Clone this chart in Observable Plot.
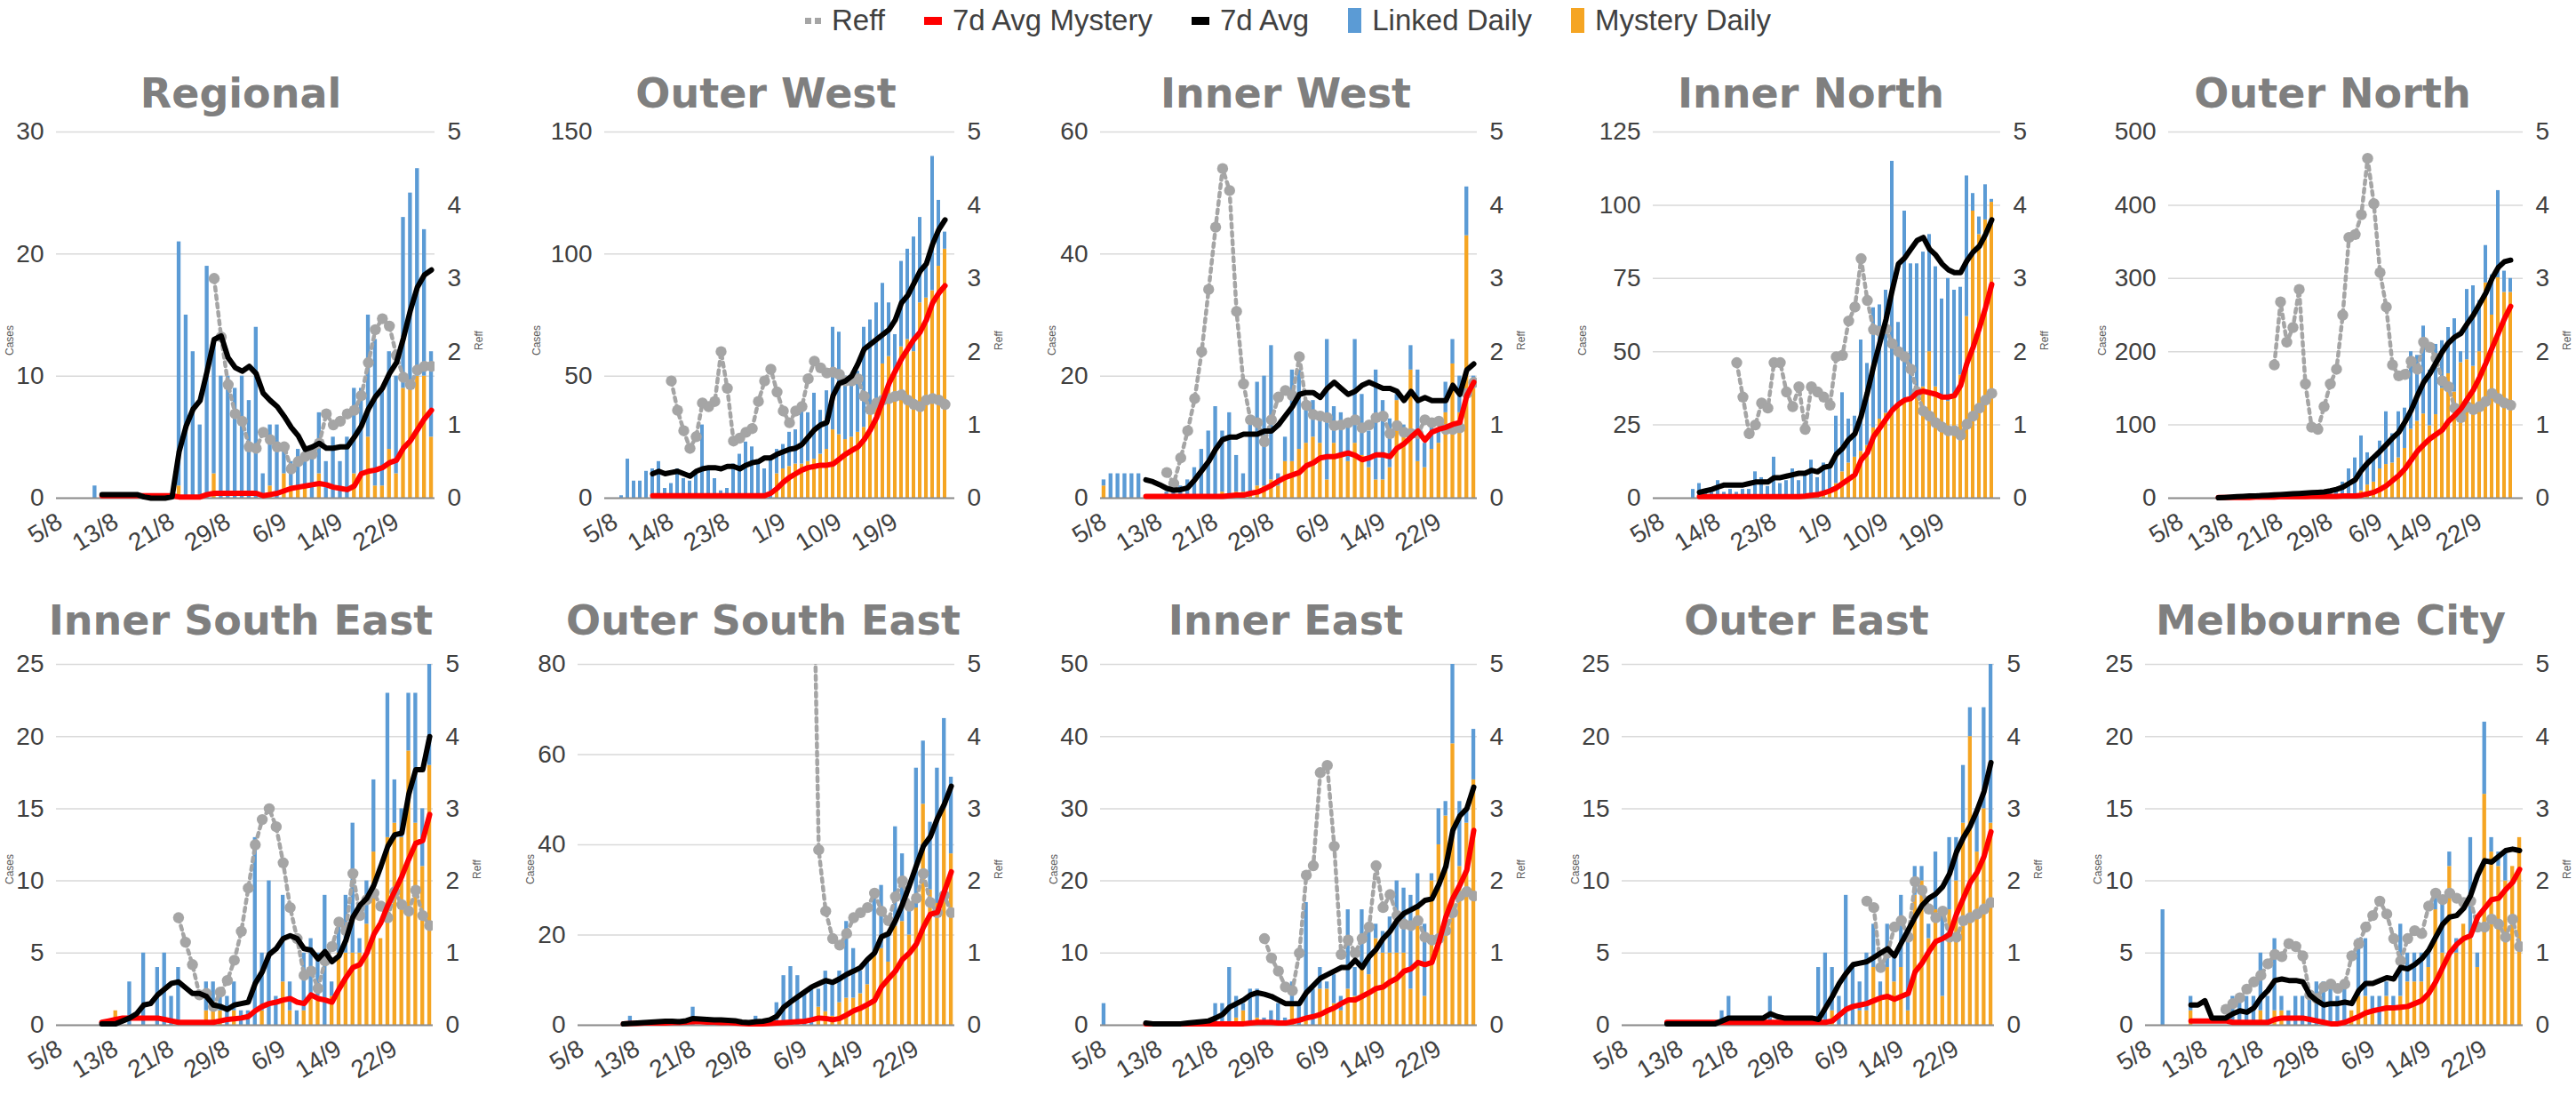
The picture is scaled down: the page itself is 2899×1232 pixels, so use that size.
<!DOCTYPE html>
<html>
<head>
<meta charset="utf-8">
<script src="https://cdn.jsdelivr.net/npm/d3@7"></script>
<script src="https://cdn.jsdelivr.net/npm/@observablehq/plot@0.6"></script>
<style>
html,body{margin:0;padding:0;background:#fff;overflow:hidden;}
#root{position:relative;width:2899px;height:1232px;background:#fff;font-family:"Liberation Sans",Arial,sans-serif;}
.title{position:absolute;transform:translate(-50%,-50%);font-family:"DejaVu Sans",sans-serif;font-weight:bold;font-size:46px;color:#7f7f7f;white-space:nowrap;line-height:1;}
.panel{position:absolute;}
.axt{position:absolute;transform:translate(-50%,-50%) rotate(-90deg);font-size:12px;color:#595959;white-space:nowrap;}
#legend{position:absolute;top:2px;left:0;width:2899px;height:42px;display:flex;justify-content:center;align-items:center;gap:44px;font-size:33px;color:#404040;}
#legend .it{display:flex;align-items:center;gap:12px;}
#legend .dots{display:flex;gap:4px;}
#legend .dots i{display:block;width:7px;height:7px;background:#a5a5a5;}
#legend .ln{display:block;width:20px;height:9px;}
#legend .bx{display:block;width:15px;height:28px;}
</style>
</head>
<body>
<div id="root">
  <div id="legend">
    <span class="it"><span class="dots"><i></i><i></i></span>Reff</span>
    <span class="it"><span class="ln" style="background:#ff0000"></span>7d Avg Mystery</span>
    <span class="it"><span class="ln" style="background:#000"></span>7d Avg</span>
    <span class="it"><span class="bx" style="background:#5b9bd5"></span>Linked Daily</span>
    <span class="it"><span class="bx" style="background:#f5a523"></span>Mystery Daily</span>
  </div>
</div>
<script>
// ---------- categories & tick labels ----------
const dates = ["5/8","6/8","7/8","8/8","9/8","10/8","11/8","12/8","13/8","14/8","15/8","16/8","17/8","18/8","19/8","20/8","21/8","22/8","23/8","24/8","25/8","26/8","27/8","28/8","29/8","30/8","31/8",
"1/9","2/9","3/9","4/9","5/9","6/9","7/9","8/9","9/9","10/9","11/9","12/9","13/9","14/9","15/9","16/9","17/9","18/9","19/9","20/9","21/9","22/9","23/9","24/9","25/9","26/9","27/9"];
const ticks8 = ["5/8","13/8","21/8","29/8","6/9","14/9","22/9"];
const ticks9 = ["5/8","14/8","23/8","1/9","10/9","19/9"];
const reffTicks = [0,1,2,3,4,5];
const _ = null;

// ---------- Regional ----------
const regionalTicks = [0,10,20,30];
const regionalLinked = [0,0,0,0,0,1,0,0,0,0, 0,0,0,0,0,0,0,20,15,12, 6,19,11,10,10,9,10,8,14,2, 5,6,2,2,3,3,4,5,3,5, 3,5,7,7,10,12,8,8,8,14, 16,17,12,7];
const regionalMystery = [0,0,0,0,0,0,0,0,0,0, 0,0,0,0,0,0,0,1,0,0, 0,0,2,0,0,0,0,0,0,0, 1,0,2,1,1,1,0,2,0,0, 0,0,2,2,5,1,1,4,2,9, 9,10,10,5];
const regionalAvg = [_,_,_,_,_,_,0.3,0.3,0.3,0.3, 0.3,0.3,0.1,0,0,0,0.1,3.8,5.9,7.3, 8,10.4,13,13.3,11.5,10.7,10.4,10.8,10.2,8.6, 8,7.5,6.7,5.8,5.1,4,4.2,4.5,4.1,4.1, 4.2,4.2,5,5.9,7.3,8.3,9,10.2,11.1,13.1, 15.4,17.3,18.3,18.7];
const regionalAvgMystery = [_,_,_,_,_,_,0.2,0.2,0.2,0.2, 0.2,0.2,0.2,0.2,0.2,0.2,0.2,0.1,0.1,0.1, 0.1,0.3,0.4,0.4,0.4,0.4,0.4,0.4,0.4,0.2, 0.3,0.4,0.6,0.8,0.9,1.0,1.1,1.2,1.1,0.9, 0.8,0.7,1.0,2.0,2.2,2.3,2.5,2.9,3.1,4.1, 4.7,5.6,6.5,7.2];
const regionalReff = [_,_,_,_,_,_,_,_,_,_, _,_,_,_,_,_,_,_,_,_, _,_,3.0,2.2,1.55,1.15,1.05,0.7,0.68,0.9, 0.8,0.7,0.7,0.4,0.5,0.57,0.6,0.75,1.15,1.0, 1.05,1.15,1.2,1.4,1.85,2.3,2.45,2.35,1.95,1.65, 1.55,1.75,1.8,1.8];

// ---------- Outer West ----------
const outerWestTicks = [0,50,100,150];
const outerWestLinked = [0,1,16,7,7,11,12,15,4,6, 12,8,7,10,30,12,8,3,4,14, 18,23,21,15,12,17,10,10,14,14, 22,20,27,18,24,42,42,26,23,25, 41,37,40,33,22,15,35,37,47,35, 13,55,27,7];
const outerWestMystery = [0,0,0,0,0,0,0,0,0,0, 0,0,0,0,0,0,0,0,0,0, 0,0,0,0,0,0,10,12,13,14, 14,15,16,18,20,28,26,24,25,27, 29,36,40,55,58,52,62,65,60,80, 82,85,95,102];
const outerWestAvg = [_,_,_,_,_,_,10,11,10,10.5, 11,10,9,11,12,12.5,12.5,12,13,13, 12,13.5,14.5,15,16.5,16.5,18,19,20,20.5, 22,25,28,30,31,42,47,48,50,55, 61,63,65,67,69,73,80,83,88,93, 96,104,110,114];
const outerWestAvgMystery = [_,_,_,_,_,_,1,1,1,1, 1,1,1,1,1,1,1,1,1,1, 1,1,1,1,1,2,4,6.5,8.5,10, 11.5,12.5,13,13.5,13.5,14,16,18,19.5,21, 24,28,33,40,47,52,57,61,65,68, 73,80,84,87];
const outerWestReff = [_,_,_,_,_,_,_,_,_,1.6, 1.2,0.92,0.68,0.84,1.3,1.25,1.32,2.0,1.5,0.78, 0.82,0.9,0.95,1.32,1.6,1.76,1.45,1.19,1.03,1.19, 1.25,1.63,1.87,1.78,1.71,1.72,1.69,1.6,1.6,1.63, 1.39,1.21,1.3,1.34,1.36,1.39,1.41,1.34,1.28,1.25, 1.34,1.36,1.34,1.28];

// ---------- Inner West ----------
const innerWestTicks = [0,20,40,60];
const innerWestLinked = [1,4,4,4,4,4,0,0,0,1, 2,2,3,5,8,11,15,10,14,6, 3,11,17,18,22,2,4,15,13,7, 6,5,23,6,7,7,17,10,6,18, 13,8,1,1,4,15,4,5,2,5, 4,6,8,2];
const innerWestMystery = [2,0,0,0,0,0,0,0,0,0, 0,0,0,0,0,0,0,1,0,1, 1,1,2,2,3,2,6,6,8,9, 10,9,3,9,7,6,9,7,5,3, 3,5,16,11,21,6,5,8,9,14, 22,14,43,18];
const innerWestAvg = [_,_,_,_,_,_,3,2.7,2.2,1.6, 1.3,1.4,1.7,3,4.5,6,8,9.6,10,10, 10.5,10.5,10.5,11,11,12,13.5,15,17,17.3, 17.3,16.5,18,19,18,17,17.5,18.5,19,18.5, 18,18,17.5,16,17.5,16,16.5,16,16,16, 18.5,17,21,22];
const innerWestAvgMystery = [_,_,_,_,_,_,0.3,0.3,0.3,0.3, 0.3,0.3,0.3,0.3,0.3,0.3,0.3,0.3,0.4,0.5, 0.5,0.8,1.0,1.5,2.1,2.8,3.4,3.8,4.2,5.3, 5.8,6.6,6.8,6.8,7.1,7.4,7.0,6.3,6.6,7.1, 7.1,6.8,8.2,8.9,10,11,9.5,10.8,11.3,11.6, 12.1,12.4,16.8,19];
const innerWestReff = [_,_,_,_,_,_,_,_,_,0.35, 0.2,0.55,0.92,1.36,2.0,2.85,3.7,4.5,4.2,2.55, 1.56,1.07,1.03,0.77,1.07,1.38,1.47,1.4,1.93,1.27, 1.14,1.12,1.1,0.99,1.0,1.03,1.07,0.96,1.0,1.1, 1.12,0.88,0.99,0.9,0.88,0.88,1.07,1.03,1.05,0.94, 0.94,0.96,1.43,1.58];

// ---------- Inner North ----------
const innerNorthTicks = [0,25,50,75,100,125];
const innerNorthLinked = [0,0,0,0,0,3,5,3,2,6, 2,3,2,3,3,9,7,4,14,5, 6,10,6,9,13,6,10,7,23,27, 15,14,38,28,41,39,42,85,28,64, 46,45,46,40,41,33,42,36,30,48, 6,6,12,1];
const innerNorthMystery = [0,0,0,0,0,0,0,0,0,0, 0,0,0,0,0,0,0,0,0,0, 0,0,0,0,0,1,2,3,5,9, 12,14,16,18,24,27,29,30,32,34, 34,35,38,50,38,35,33,35,42,62, 98,90,95,101];
const innerNorthAvg = [_,_,_,_,_,_,2,2.5,3,3.8, 4.5,4.5,4.5,4.5,5,5.5,5.5,5.5,7,7, 7.5,8,8.5,8.5,9.5,9,10.5,11,15,17, 20,22,28,36,45,53,61,71,80,82, 85,88,89,85,83,80,78,77,77,81, 84,86,90,95];
const innerNorthAvgMystery = [_,_,_,_,_,_,0.5,0.5,0.5,0.5, 0.5,0.5,0.5,0.5,0.5,0.5,0.5,0.5,0.5,0.5, 0.5,0.5,0.5,0.7,1,1.2,1.8,2.5,3.5,5, 6.5,8,13,15.5,21,24,27,30,32,33.5, 34,36,36.5,36,35.5,34.5,34.5,35,38.5,46, 51.5,58,65,73];
const innerNorthReff = [_,_,_,_,_,_,_,_,_,_, _,_,1.85,1.38,0.88,1.0,1.3,1.23,1.85,1.85, 1.45,1.25,1.52,0.94,1.52,1.45,1.38,1.27,1.93,1.95, 2.42,2.61,3.27,2.7,2.3,2.28,2.31,2.11,2.0,1.93, 1.76,1.45,1.19,1.12,1.03,0.97,0.92,0.92,0.86,1.01, 1.12,1.23,1.34,1.43];

// ---------- Outer North ----------
const outerNorthTicks = [0,100,200,300,400,500];
const outerNorthLinked = [0,0,0,0,0,0,0,0,0,0, 0,0,1,2,3,2,4,3,5,3, 4,6,5,8,10,12,22,40,50,75, 44,35,38,72,40,63,55,106,90,120, 76,96,65,63,100,15,96,110,70,51, 55,119,29,19];
const outerNorthMystery = [0,0,0,0,0,0,0,0,0,0, 0,0,0,0,0,0,0,0,0,0, 0,0,0,0,0,0,0,0,5,10, 18,22,40,46,48,55,68,94,105,115, 99,114,150,170,145,185,189,180,200,294, 250,301,281,281];
const outerNorthAvg = [_,_,_,_,_,_,0.5,1,1.5,2, 2.5,3,3,3.5,4,4.5,5,5.5,6,6.5, 7,7.5,8,8.5,10,12,15,20,25,38, 48,56,64,73,82,90,104,120,140,158, 170,185,200,212,220,225,238,250,265,280, 300,315,323,325];
const outerNorthAvgMystery = [_,_,_,_,_,_,1,1,1,1, 1,1,1.5,1.5,1.5,1.5,2,2,2,2, 2,2.5,2.5,2.5,2.5,2.5,3,3,3,4, 6,8,12,17,24,31,40,52,64,73, 81,87,93,105,113,122,135,148,165,184, 205,225,245,262];
const outerNorthReff = [_,_,_,_,_,_,_,_,_,_, _,_,_,_,_,1.82,2.68,2.13,2.33,2.85, 1.56,0.97,0.94,1.25,1.56,1.76,2.5,3.56,3.6,3.87, 4.64,4.02,3.08,2.61,1.82,1.67,1.69,1.87,1.76,2.13, 2.06,1.91,1.6,1.52,1.23,1.1,1.25,1.21,1.25,1.32, 1.43,1.36,1.3,1.27];

// ---------- Inner South East ----------
const innerSouthEastTicks = [0,5,10,15,20,25];
const innerSouthEastLinked = [0,0,0,0,0,0,0,0,0,0, 3,0,5,0,4,5,2,4,0,0, 0,2,2,1,2,2,1,1,13,4, 10,2,6,2,1,4,4,3,9,1, 2,4,9,1,3,5,0,10,3,2, 4,9,4,7];
const innerSouthEastMystery = [0,0,0,0,0,0,0,0,1,0, 0,0,0,0,0,0,0,0,0,0, 0,1,1,1,0,1,0,0,0,1, 0,0,3,1,0,1,2,2,0,2, 5,5,5,5,7,12,6,13,14,13, 19,14,11,18];
const innerSouthEastAvg = [_,_,_,_,_,_,0.1,0.1,0.1,0.3, 0.5,0.8,1.4,1.5,2.1,2.5,2.9,3.0,2.6,2.2, 2.2,2.0,1.4,1.3,1.1,1.4,1.5,1.6,2.9,3.7, 4.9,5.3,6,6.2,6,5.3,5.2,4.6,5.1,4.4, 4.8,5.9,7.5,8.3,8.8,9.7,11,12.4,13.2,13.3, 16,17.7,17.7,20];
const innerSouthEastAvgMystery = [_,_,_,_,_,_,0.2,0.3,0.4,0.5, 0.5,0.5,0.5,0.5,0.5,0.4,0.3,0.2,0.2,0.2, 0.2,0.2,0.2,0.3,0.4,0.45,0.5,0.6,1.0,1.3, 1.5,1.6,1.75,1.85,1.6,1.5,2.1,1.85,1.75,1.6, 2.5,3.3,4.0,4.2,5.0,6.3,7.1,8.3,9.3,10.3, 11.5,12.6,12.8,14.6];
const innerSouthEastReff = [_,_,_,_,_,_,_,_,_,_, _,_,_,_,_,_,_,1.49,1.15,0.84, 0.42,0.44,0.26,0.46,0.62,0.9,1.3,1.9,2.5,2.85, 3.0,2.75,2.25,1.63,1.2,0.69,0.75,0.51,0.89,1.09, 1.43,1.31,2.1,1.52,1.74,1.83,1.65,1.49,1.85,1.67, 1.58,1.87,1.52,1.38];

// ---------- Outer South East ----------
const outerSouthEastTicks = [0,20,40,60,80];
const outerSouthEastLinked = [0,0,0,0,0,0,0,2,0,1, 0,0,1,0,1,0,4,0,0,1, 0,1,0,1,0,2,0,1,5,11, 13,11,7,8,4,9,8,7,17,11, 5,5,13,14,6,22,15,7,31,14, 15,30,20,17];
const outerSouthEastMystery = [0,0,0,0,0,0,0,0,0,0, 0,0,0,0,0,0,0,0,0,0, 0,0,0,0,0,0,0,0,0,0, 0,0,0,0,4,3,2,5,6,6, 7,9,16,17,14,22,23,20,26,49, 30,27,48,38];
const outerSouthEastAvg = [_,_,_,_,_,_,0.3,0.4,0.5,0.6, 0.7,0.8,0.9,0.9,0.8,1.0,1.5,1.4,1.3,1.2, 1.2,1.1,1.0,0.7,0.6,0.8,0.9,1.2,2.0,4.0, 5.2,6.3,7.4,8.5,9.2,9.9,9.5,10.3,11.3,12, 12.8,14.6,16,19.6,20.3,23.2,26.8,31,35.4,39.7, 41.8,45.8,49,53];
const outerSouthEastAvgMystery = [_,_,_,_,_,_,0.3,0.4,0.4,0.5, 0.5,0.5,0.5,0.6,0.6,0.7,0.8,0.8,0.7,0.7, 0.6,0.6,0.5,0.4,0.3,0.3,0.3,0.4,0.5,0.6, 0.7,0.8,0.9,1.2,1.6,1.5,1.2,1.5,2.3,3.2, 3.8,4.6,5.5,8.5,10.3,12,14.6,16,18,21.7, 24.6,25,29.6,34];
const outerSouthEastReff = [_,_,_,_,_,_,_,_,_,_, _,_,_,_,_,_,_,_,_,_, _,_,_,_,_,_,_,_,_,_, _,_,_,8,2.43,1.58,1.2,1.11,1.27,1.49, 1.56,1.63,1.83,1.58,1.45,1.78,2.0,1.65,1.76,2.1, 1.7,1.56,1.8,1.56];

// ---------- Inner East ----------
const innerEastTicks = [0,10,20,30,40,50];
const innerEastLinked = [3,0,0,0,0,0,0,0,0,0, 0,0,0,0,0,0,3,3,8,3, 1,5,4,1,2,3,1,3,3,16, 5,3,1,4,2,11,4,8,6,2, 3,5,10,9,13,5,10,1,5,2, 11,9,2,7];
const innerEastMystery = [0,0,0,0,0,0,0,0,0,0, 0,0,0,0,0,0,0,0,0,1, 2,0,1,0,0,0,0,3,0,1, 0,5,5,3,2,5,4,8,7,12, 10,10,10,10,5,16,4,20,25,29, 39,22,28,34];
const innerEastAvg = [_,_,_,_,_,_,0.3,0.2,0.2,0.2, 0.2,0.2,0.3,0.4,0.5,0.6,1,1.5,2.5,3, 3.5,4.2,4.5,4.3,4,3.5,3,3,3,4.5, 5.5,6.5,7,7.5,8,8,9,8,9.5,10.5, 12,13,14.5,15.5,16,16.5,17.3,17.5,19.5,22, 27,29,30,33];
const innerEastAvgMystery = [_,_,_,_,_,_,0.2,0.2,0.2,0.2, 0.2,0.2,0.2,0.2,0.2,0.2,0.2,0.2,0.2,0.2, 0.2,0.3,0.4,0.4,0.4,0.3,0.3,0.5,0.7,1.0, 1.2,1.5,2.0,2.4,3.0,3.5,3.5,4.0,4.5,5.1, 5.3,6.0,6.5,7.5,7.8,8.7,8.4,8.7,11.5,15, 17.6,19.4,21.5,27];
const innerEastReff = [_,_,_,_,_,_,_,_,_,_, _,_,_,_,_,_,_,_,_,_, _,_,_,1.2,0.93,0.75,0.53,0.48,1.0,2.08, 2.21,3.5,3.6,2.48,0.98,1.18,1.0,1.2,1.36,2.21, 1.63,1.81,1.52,1.4,1.38,1.45,1.22,1.18,1.2,1.31, 1.56,1.79,1.85,1.79];

// ---------- Outer East ----------
const outerEastTicks = [0,5,10,15,20,25];
const outerEastLinked = [0,0,0,0,0,0,0,0,0,0, 0,0,0,0,1,2,0,0,0,0, 0,2,0,0,0,0,0,0,4,5, 3,2,9,4,2,4,3,1,3,2, 5,5,2,1,1,4,6,5,3,4, 2,3,7,11];
const outerEastMystery = [0,0,0,0,0,0,0,0,0,0, 0,0,0,0,0,0,0,0,0,0, 0,0,0,0,0,0,0,0,0,0, 1,0,0,0,1,1,4,2,4,3, 4,1,9,10,6,8,2,8,10,14, 20,12,15,14];
const outerEastAvg = [_,_,_,_,_,_,0.1,0.1,0.1,0.1, 0.1,0.1,0.1,0.1,0.3,0.5,0.5,0.5,0.5,0.5, 0.5,0.8,0.6,0.5,0.5,0.5,0.5,0.5,0.4,1.2, 2.0,2.9,3.6,4.2,4.3,4.4,4.7,5.0,5.3,4.8, 5.7,6.6,7.5,8.3,8.8,9.1,9.6,10.5,12,13, 13.8,14.9,16.2,18.2];
const outerEastAvgMystery = [_,_,_,_,_,_,0.2,0.2,0.2,0.2, 0.2,0.2,0.2,0.2,0.2,0.2,0.2,0.2,0.2,0.2, 0.2,0.2,0.2,0.2,0.2,0.2,0.2,0.2,0.2,0.2, 0.3,0.7,1.1,1.3,1.4,1.5,1.7,1.9,2.0,1.8, 2.0,2.2,3.7,4.3,5.1,5.8,6.0,6.3,7.7,8.8, 9.9,10.6,11.7,13.4];
const outerEastReff = [_,_,_,_,_,_,_,_,_,_, _,_,_,_,_,_,_,_,_,_, _,_,_,_,_,_,_,_,_,_, _,_,_,_,_,1.72,1.63,0.8,1.0,1.36, 1.45,1.22,1.99,1.87,1.61,1.49,1.58,1.22,1.22,1.45, 1.49,1.54,1.61,1.7];

// ---------- Melbourne City ----------
const melbourneCityTicks = [0,5,10,15,20,25];
const melbourneCityLinked = [0,0,8,0,0,0,1,0,0,0, 0,0,2,2,2,2,4,2,5,1, 1,2,2,2,3,3,3,2,3,0, 4,4,1,2,1,1,5,2,2,2, 1,1,4,1,1,0,7,1,5,1, 1,2,0,0];
const melbourneCityMystery = [0,0,0,0,0,0,1,0,0,0, 0,0,0,0,0,0,1,0,1,1, 0,0,0,0,0,0,0,0,0,1, 2,2,1,0,2,1,2,3,3,3, 4,8,5,11,5,7,6,4,16,12, 11,10,11,13];
const melbourneCityAvg = [_,_,_,_,_,_,1.4,1.4,1.7,0.5, 0.5,0.5,0.8,1.0,0.9,1.2,1.9,2.4,3.1,3.2, 3.1,3.1,3.0,2.1,1.7,1.4,1.5,1.5,1.6,1.5, 2.4,2.9,2.9,3.1,3.3,3.2,4.0,3.9,4.2,4.6, 5.2,6.1,7.0,7.5,7.6,8.1,9.0,10.4,11.4,11.3, 11.7,12.1,12.2,12.1];
const melbourneCityAvgMystery = [_,_,_,_,_,_,0.3,0.3,0.3,0.3, 0.3,0.3,0.2,0.2,0.2,0.2,0.2,0.2,0.4,0.5, 0.5,0.5,0.5,0.4,0.3,0.2,0.1,0.1,0.2,0.4, 0.6,0.85,1.0,1.1,1.2,1.2,1.25,1.3,1.5,1.7, 2.2,3.0,4.0,5.0,5.6,6.0,6.2,7.5,8.1,8.7, 8.8,9.4,9.9,10.8];
const melbourneCityReff = [_,_,_,_,_,_,_,_,_,_, _,0.22,0.3,0.38,0.5,0.6,0.69,0.85,0.98,0.95, 1.13,1.09,0.96,0.42,0.37,0.53,0.57,0.51,0.57,0.96, 1.13,1.36,1.52,1.72,1.54,1.2,0.89,1.2,1.31,1.27, 1.65,1.83,1.74,1.83,1.76,1.7,1.72,1.36,1.36,1.47, 1.4,1.22,1.47,1.09];

// ---------- panels (data references + layout) ----------
const panels = [
  {name:"Regional", ticks:regionalTicks, xt:ticks8, linked:regionalLinked, mystery:regionalMystery, avg:regionalAvg, avgM:regionalAvgMystery, reff:regionalReff, row:0, x0:63, x1:489, tx:271, cx:11},
  {name:"Outer West", ticks:outerWestTicks, xt:ticks9, linked:outerWestLinked, mystery:outerWestMystery, avg:outerWestAvg, avgM:outerWestAvgMystery, reff:outerWestReff, row:0, x0:680, x1:1074, tx:862, cx:604},
  {name:"Inner West", ticks:innerWestTicks, xt:ticks8, linked:innerWestLinked, mystery:innerWestMystery, avg:innerWestAvg, avgM:innerWestAvgMystery, reff:innerWestReff, row:0, x0:1238, x1:1662, tx:1447, cx:1184},
  {name:"Inner North", ticks:innerNorthTicks, xt:ticks9, linked:innerNorthLinked, mystery:innerNorthMystery, avg:innerNorthAvg, avgM:innerNorthAvgMystery, reff:innerNorthReff, row:0, x0:1860, x1:2251, tx:2038, cx:1781},
  {name:"Outer North", ticks:outerNorthTicks, xt:ticks8, linked:outerNorthLinked, mystery:outerNorthMystery, avg:outerNorthAvg, avgM:outerNorthAvgMystery, reff:outerNorthReff, row:0, x0:2440, x1:2839, tx:2625, cx:2366},
  {name:"Inner South East", ticks:innerSouthEastTicks, xt:ticks8, linked:innerSouthEastLinked, mystery:innerSouthEastMystery, avg:innerSouthEastAvg, avgM:innerSouthEastAvgMystery, reff:innerSouthEastReff, row:1, x0:63, x1:487, tx:271, cx:11},
  {name:"Outer South East", ticks:outerSouthEastTicks, xt:ticks8, linked:outerSouthEastLinked, mystery:outerSouthEastMystery, avg:outerSouthEastAvg, avgM:outerSouthEastAvgMystery, reff:outerSouthEastReff, row:1, x0:650, x1:1074, tx:859, cx:597},
  {name:"Inner East", ticks:innerEastTicks, xt:ticks8, linked:innerEastLinked, mystery:innerEastMystery, avg:innerEastAvg, avgM:innerEastAvgMystery, reff:innerEastReff, row:1, x0:1238, x1:1662, tx:1447, cx:1186},
  {name:"Outer East", ticks:outerEastTicks, xt:ticks8, linked:outerEastLinked, mystery:outerEastMystery, avg:outerEastAvg, avgM:outerEastAvgMystery, reff:outerEastReff, row:1, x0:1825, x1:2244, tx:2033, cx:1773},
  {name:"Melbourne City", ticks:melbourneCityTicks, xt:ticks8, linked:melbourneCityLinked, mystery:melbourneCityMystery, avg:melbourneCityAvg, avgM:melbourneCityAvgMystery, reff:melbourneCityReff, row:1, x0:2414, x1:2839, tx:2623, cx:2361}
];

const rowsLayout = [{top:148, h:412, ty:105}, {top:747, h:406, ty:698}];
const BLUE = "#5b9bd5", ORANGE = "#f5a523", GREY = "#a5a5a5";
const root = document.getElementById("root");

panels.forEach(P => {
  const RL = rowsLayout[P.row];
  const ymax = P.ticks[P.ticks.length - 1];
  const k = ymax / 5;
  const mt = 24, mb = 95, ml = 80, mr = 60;
  const w = P.x1 - P.x0;

  const rows = dates.map((d, i) => ({
    date: d,
    avg: P.avg[i],
    avgM: P.avgM[i],
    reff: P.reff[i] == null ? null : P.reff[i] * k
  }));
  const bars = [];
  dates.forEach((d, i) => {
    bars.push({date: d, series: "Mystery Daily", value: P.mystery[i]});
    bars.push({date: d, series: "Linked Daily", value: P.linked[i]});
  });

  const svg = Plot.plot({
    width: ml + w + mr,
    height: mt + RL.h + mb,
    marginLeft: ml, marginRight: mr, marginTop: mt, marginBottom: mb,
    x: {type: "band", domain: dates, paddingInner: 0.45, paddingOuter: 0.225},
    y: {domain: [0, ymax]},
    color: {domain: ["Linked Daily", "Mystery Daily"], range: [BLUE, ORANGE]},
    style: {fontSize: "28px", fontFamily: "'Liberation Sans', Arial, sans-serif", color: "#404040", background: "transparent", overflow: "visible"},
    marks: [
      Plot.gridY(P.ticks, {stroke: "#d9d9d9", strokeOpacity: 1, strokeWidth: 1.5}),
      Plot.barY(bars, {x: "date", y: "value", fill: "series"}),
      Plot.ruleY([0], {stroke: "#8c8c8c", strokeWidth: 2}),
      Plot.line(rows, {x: "date", y: "reff", stroke: GREY, strokeWidth: 4.5, strokeDasharray: "4.5 5", clip: true}),
      Plot.dot(rows, {x: "date", y: "reff", r: 6.2, fill: GREY, clip: true}),
      Plot.line(rows, {x: "date", y: "avgM", stroke: "#ff0000", strokeWidth: 6, strokeLinejoin: "round"}),
      Plot.line(rows, {x: "date", y: "avg", stroke: "#000000", strokeWidth: 6, strokeLinejoin: "round"}),
      Plot.axisY(P.ticks, {anchor: "left", tickSize: 0, tickPadding: 14, label: null}),
      Plot.axisY(reffTicks.map(v => v * k), {anchor: "right", tickSize: 0, tickPadding: 14, label: null, tickFormat: v => String(Math.round(v / k))}),
      Plot.axisX(P.xt, {anchor: "bottom", tickSize: 0, tickPadding: 24, tickRotate: -32, label: null, fontSize: 28})
    ]
  });

  const div = document.createElement("div");
  div.className = "panel";
  div.style.left = (P.x0 - ml) + "px";
  div.style.top = (RL.top - mt) + "px";
  div.appendChild(svg);
  root.appendChild(div);

  const t = document.createElement("div");
  t.className = "title";
  t.textContent = P.name;
  t.style.left = P.tx + "px";
  t.style.top = RL.ty + "px";
  root.appendChild(t);

  const c = document.createElement("div");
  c.className = "axt";
  c.textContent = "Cases";
  c.style.left = P.cx + "px";
  c.style.top = (RL.top + RL.h * 0.57) + "px";
  root.appendChild(c);

  const r = document.createElement("div");
  r.className = "axt";
  r.textContent = "Reff";
  r.style.left = (P.x1 + 50) + "px";
  r.style.top = (RL.top + RL.h * 0.57) + "px";
  root.appendChild(r);
});
</script>
</body>
</html>
